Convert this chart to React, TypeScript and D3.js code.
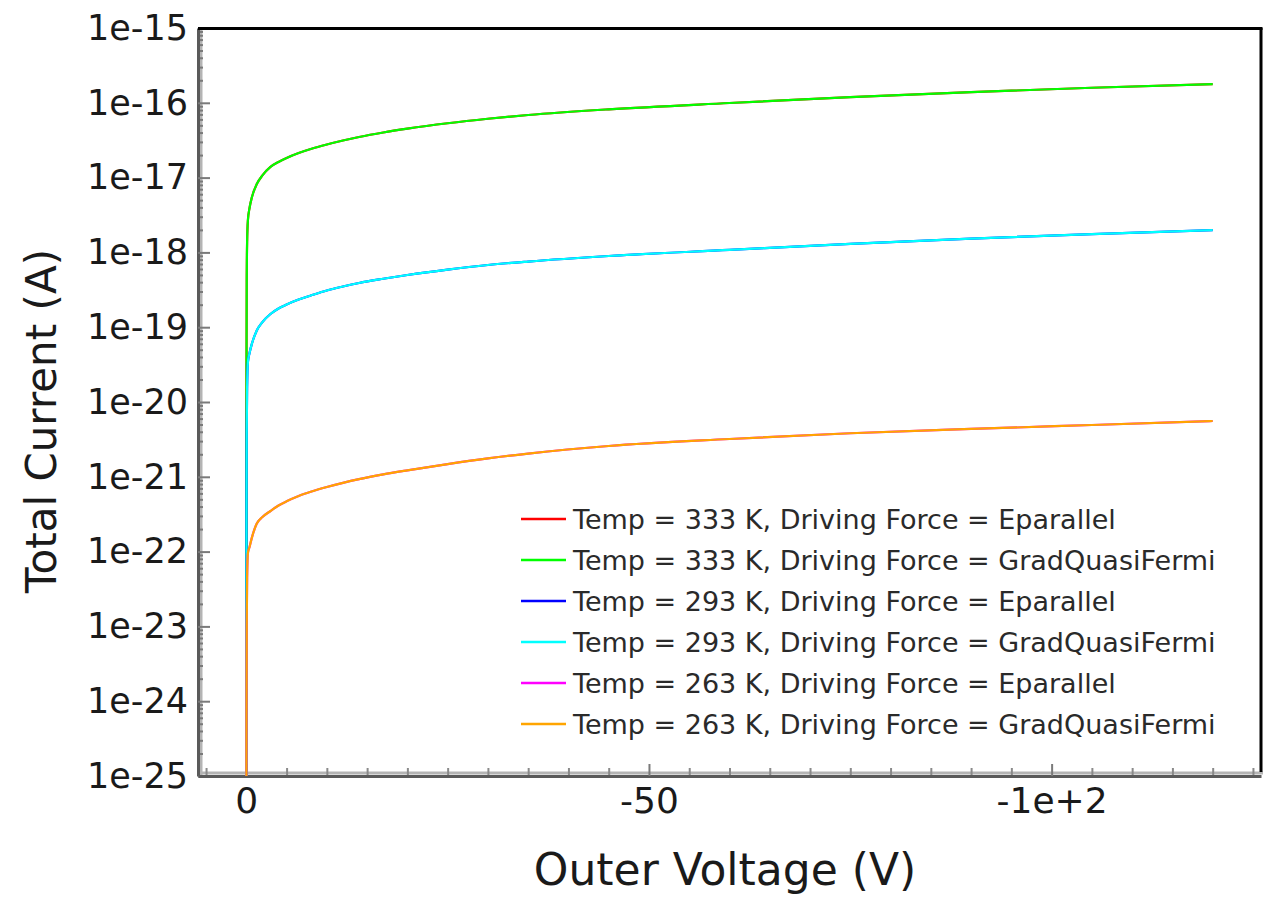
import React, { useEffect, useRef } from "react";
import * as d3 from "d3";

const width = 1263,
  height = 897;
const plotLeft = 198,
  plotRight = 1261,
  plotTop = 28,
  plotBottom = 776;
const font = "DejaVu Sans, Verdana, sans-serif";

// Outer Voltage (V), shared by every series
const voltage = [0, -0.02, -0.05, -0.1, -0.2, -0.4, -0.7, -1.3, -2, -3, -4, -5, -6.5, -8, -10, -12, -14, -17, -20, -25, -30, -35, -45, -60, -75, -90, -105, -120];

// Total Current (A)
const grad333 = [1e-26, 2.5e-20, 4e-19, 1.4e-18, 2.71e-18, 3.92e-18, 5.5e-18, 8.2e-18, 1.07e-17, 1.39e-17, 1.62e-17, 1.83e-17, 2.13e-17, 2.41e-17, 2.77e-17, 3.13e-17, 3.49e-17, 4.01e-17, 4.51e-17, 5.33e-17, 6.12e-17, 6.87e-17, 8.18e-17, 9.94e-17, 1.19e-16, 1.39e-16, 1.59e-16, 1.78e-16];
const grad293 = [1e-26, 2.5e-22, 4e-21, 1.6e-20, 3.43e-20, 4.52e-20, 6.05e-20, 9.03e-20, 1.17e-19, 1.5e-19, 1.78e-19, 2.01e-19, 2.34e-19, 2.65e-19, 3.1e-19, 3.5e-19, 3.9e-19, 4.44e-19, 4.99e-19, 5.9e-19, 6.79e-19, 7.55e-19, 8.95e-19, 1.08e-18, 1.3e-18, 1.53e-18, 1.76e-18, 1.99e-18];
const grad263 = [1e-26, 6.3e-25, 1e-23, 4.5e-23, 9.6e-23, 1.15e-22, 1.55e-22, 2.38e-22, 2.9e-22, 3.49e-22, 4.13e-22, 4.7e-22, 5.53e-22, 6.3e-22, 7.3e-22, 8.3e-22, 9.3e-22, 1.076e-21, 1.22e-21, 1.48e-21, 1.76e-21, 2.04e-21, 2.58e-21, 3.2e-21, 3.82e-21, 4.36e-21, 4.93e-21, 5.57e-21];
// Eparallel runs lie exactly under the GradQuasiFermi runs
const epar333 = grad333;
const epar293 = grad293;
const epar263 = grad263;

const seriesNames = [
  "Temp = 333 K, Driving Force = Eparallel",
  "Temp = 333 K, Driving Force = GradQuasiFermi",
  "Temp = 293 K, Driving Force = Eparallel",
  "Temp = 293 K, Driving Force = GradQuasiFermi",
  "Temp = 263 K, Driving Force = Eparallel",
  "Temp = 263 K, Driving Force = GradQuasiFermi"
];
const seriesValues = [epar333, grad333, epar293, grad293, epar263, grad263];
const seriesColors = ["#ff0000", "#00ff00", "#0000ff", "#00ffff", "#ff00ff", "#ffa500"];

const xTickValues = [0, -50, -100];
const xTickLabels = ["0", "-50", "-1e+2"];
const yTickValues = [1e-15, 1e-16, 1e-17, 1e-18, 1e-19, 1e-20, 1e-21, 1e-22, 1e-23, 1e-24, 1e-25];
const yTickLabels = ["1e-15", "1e-16", "1e-17", "1e-18", "1e-19", "1e-20", "1e-21", "1e-22", "1e-23", "1e-24", "1e-25"];

let drawChart = (node: SVGSVGElement) => {
  document.body.style.margin = "0";
  const svg = d3.select(node);
  svg.selectAll("*").remove();

  const x = d3.scaleLinear().domain([6, -126]).range([plotLeft, plotRight]);
  const y = d3.scaleLog().domain([1e-25, 1e-15]).range([plotBottom, plotTop]);

  // minor tick positions
  const yMinor: number[] = [];
  for (let e = -25; e < -15; e++) {
    for (let k = 2; k <= 9; k++) yMinor.push(k * Math.pow(10, e));
  }
  const xMinor = d3.range(5, -126, -5).filter(v => v % 50 !== 0);

  svg.append("rect").attr("width", width).attr("height", height).attr("fill", "#fff");

  svg.append("clipPath")
    .attr("id", "plotClip")
    .append("rect")
    .attr("x", plotLeft)
    .attr("y", plotTop)
    .attr("width", plotRight - plotLeft)
    .attr("height", plotBottom - plotTop);

  // light inner edges of the axes
  svg.append("line")
    .attr("x1", plotLeft + 3).attr("x2", plotLeft + 3)
    .attr("y1", plotTop).attr("y2", plotBottom)
    .attr("stroke", "#b4b4b4").attr("stroke-width", 3);
  svg.append("line")
    .attr("x1", plotLeft).attr("x2", plotRight + 2)
    .attr("y1", plotBottom - 3).attr("y2", plotBottom - 3)
    .attr("stroke", "#b4b4b4").attr("stroke-width", 3);

  // minor ticks
  const yMinorAxis = svg.append("g")
    .attr("transform", `translate(${plotLeft},0)`)
    .call(d3.axisLeft(y).tickValues(yMinor).tickSize(-5).tickFormat(() => ""));
  yMinorAxis.select(".domain").remove();
  yMinorAxis.selectAll("line").attr("stroke", "#7a7a7a").attr("stroke-width", 2);

  const xMinorAxis = svg.append("g")
    .attr("transform", `translate(0,${plotBottom})`)
    .call(d3.axisBottom(x).tickValues(xMinor).tickSize(-8).tickFormat(() => ""));
  xMinorAxis.select(".domain").remove();
  xMinorAxis.selectAll("line").attr("stroke", "#8a8a8a").attr("stroke-width", 2);

  // major axes
  const yAxis = svg.append("g")
    .attr("transform", `translate(${plotLeft},0)`)
    .call(d3.axisLeft(y)
      .tickValues(yTickValues)
      .tickSize(-12)
      .tickSizeOuter(0)
      .tickPadding(10)
      .tickFormat((d, i) => yTickLabels[i]));
  yAxis.select(".domain").attr("stroke", "#5a5a5a").attr("stroke-width", 3);
  yAxis.selectAll(".tick line").attr("stroke", "#7a7a7a").attr("stroke-width", 2);
  yAxis.selectAll("text")
    .attr("font-family", font)
    .attr("font-size", 35)
    .attr("fill", "#1a1a1a");

  const xAxis = svg.append("g")
    .attr("transform", `translate(0,${plotBottom})`)
    .call(d3.axisBottom(x)
      .tickValues(xTickValues)
      .tickSize(-12)
      .tickSizeOuter(0)
      .tickPadding(11)
      .tickFormat((d, i) => xTickLabels[i]));
  xAxis.select(".domain").attr("stroke", "#5a5a5a").attr("stroke-width", 3);
  xAxis.selectAll(".tick line").attr("stroke", "#7a7a7a").attr("stroke-width", 2);
  xAxis.selectAll("text")
    .attr("font-family", font)
    .attr("font-size", 36)
    .attr("fill", "#1a1a1a");

  // top and right frame
  svg.append("line")
    .attr("x1", plotLeft).attr("x2", plotRight + 1.5)
    .attr("y1", plotTop + 0.5).attr("y2", plotTop + 0.5)
    .attr("stroke", "#000").attr("stroke-width", 3);
  svg.append("line")
    .attr("x1", plotRight).attr("x2", plotRight)
    .attr("y1", plotTop).attr("y2", plotBottom - 4)
    .attr("stroke", "#000").attr("stroke-width", 3);

  // series
  const line = d3.line<number>()
    .x((d, i) => x(voltage[i]))
    .y(d => y(d))
    .curve(d3.curveMonotoneX);

  const plotArea = svg.append("g").attr("clip-path", "url(#plotClip)");
  seriesValues.forEach((vals, i) => {
    plotArea.append("path")
      .datum(vals)
      .attr("d", line)
      .attr("fill", "none")
      .attr("stroke", seriesColors[i])
      .attr("stroke-width", 2.2);
  });

  // legend
  const legend = svg.append("g");
  seriesNames.forEach((name, i) => {
    const ly = 519 + i * 41;
    legend.append("line")
      .attr("x1", 521).attr("x2", 566)
      .attr("y1", ly).attr("y2", ly)
      .attr("stroke", seriesColors[i])
      .attr("stroke-width", 2.5);
    legend.append("text")
      .attr("x", 573)
      .attr("y", ly)
      .attr("dy", "0.36em")
      .attr("font-family", font)
      .attr("font-size", 27)
      .attr("fill", "#2a2a2a")
      .text(name);
  });

  // axis titles
  svg.append("text")
    .attr("transform", "translate(56,421) rotate(-90)")
    .attr("text-anchor", "middle")
    .attr("font-family", font)
    .attr("font-size", 42)
    .attr("fill", "#1a1a1a")
    .text("Total Current (A)");

  svg.append("text")
    .attr("x", 725)
    .attr("y", 885)
    .attr("text-anchor", "middle")
    .attr("font-family", font)
    .attr("font-size", 44)
    .attr("fill", "#1a1a1a")
    .text("Outer Voltage (V)");
};

export default function App() {
  const ref = useRef<SVGSVGElement>(null);
  useEffect(() => {
    if (ref.current) drawChart(ref.current);
  }, []);
  return <svg ref={ref} width={width} height={height} style={{ display: "block" }} />;
}
